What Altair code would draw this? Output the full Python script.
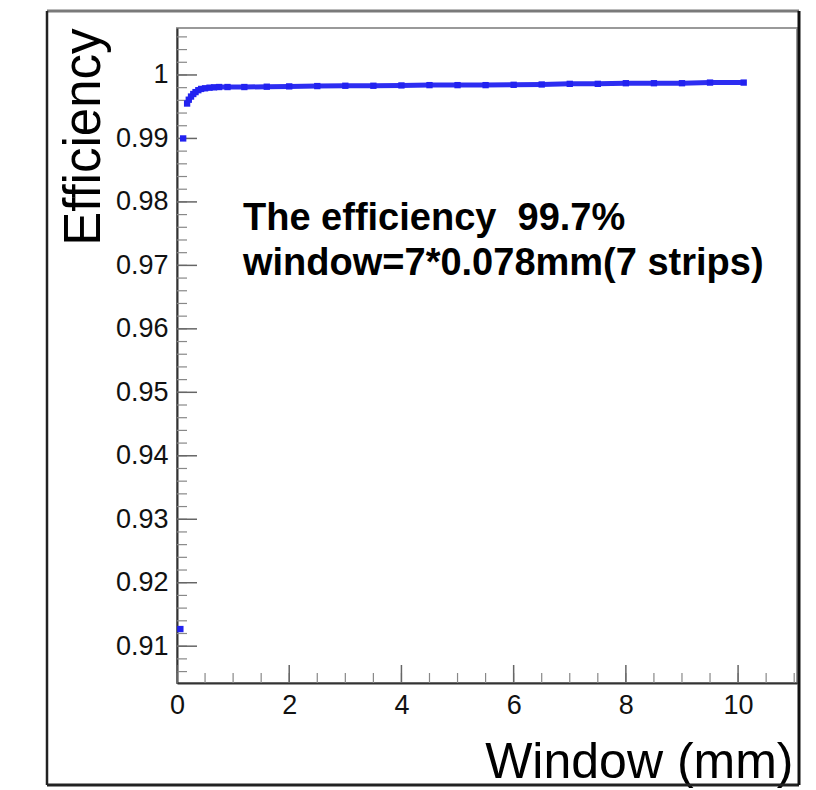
import altair as alt
import pandas as pd

# ---- data ----
window_mm = [0.06, 0.11, 0.18, 0.21, 0.25, 0.29, 0.33, 0.38, 0.43, 0.50, 0.58, 0.66,
             0.75, 0.90, 1.2, 1.6, 2.0, 2.5, 3.0, 3.5, 4.0, 4.5, 5.0, 5.5, 6.0, 6.5,
             7.0, 7.5, 8.0, 8.5, 9.0, 9.5, 10.1]
efficiency = [0.9127, 0.9900, 0.9955, 0.9961, 0.9966, 0.9970, 0.9973, 0.9976, 0.9978,
              0.9979, 0.9980, 0.99805, 0.9981, 0.9981, 0.9981, 0.99815, 0.9982, 0.99825,
              0.9983, 0.9983, 0.99835, 0.9984, 0.9984, 0.9984, 0.99845, 0.9985, 0.9986,
              0.9986, 0.9987, 0.9987, 0.9987, 0.9988, 0.9988]

y_major = [0.91, 0.92, 0.93, 0.94, 0.95, 0.96, 0.97, 0.98, 0.99, 1.00]
y_minor = [round(0.906 + 0.002 * i, 3) for i in range(51)]
x_major = [0, 2, 4, 6, 8, 10]
x_minor = [0.5 * i for i in range(23)]

annotation = ["The efficiency\u00a0\u00a099.7%", "window=7*0.078mm(7 strips)"]
x_title = "Window (mm)"
y_title = "Efficiency"

df = pd.DataFrame({"x": window_mm, "y": efficiency})

FONT = "Liberation Sans"
BLUE = "#2222f0"

xscale = alt.Scale(domain=[0, 11.05], nice=False, zero=False)
yscale = alt.Scale(domain=[0.9042, 1.0074], nice=False, zero=False)

xaxis = alt.Axis(values=x_major, format="d", tickSize=0, labelPadding=9,
                 labelFlush=False,
                 labelFontSize=27, labelFont=FONT, labelColor="#111",
                 domainColor="#333", domainWidth=2, grid=False,
                 title=x_title, titleFont=FONT, titleFontSize=50,
                 titleFontWeight="normal", titleColor="#000",
                 titleAlign="right", titleBaseline="alphabetic",
                 titleX=616, titleY=94)
yaxis = alt.Axis(values=y_major, format=".2~f", tickSize=0, labelPadding=9,
                 labelFlush=False,
                 labelFontSize=27, labelFont=FONT, labelColor="#111",
                 domainColor="#333", domainWidth=2, grid=False,
                 title=y_title, titleFont=FONT, titleFontSize=51,
                 titleFontWeight="normal", titleColor="#000",
                 titleAngle=-90, titleAlign="right", titleBaseline="alphabetic",
                 titleX=-78, titleY=0)

base = alt.Chart(df)

band = base.transform_filter("datum.x >= 0.15").mark_line(
    color=BLUE, strokeWidth=5, strokeCap="round", opacity=0.95
).encode(
    x=alt.X("x:Q", scale=xscale, axis=xaxis),
    y=alt.Y("y:Q", scale=yscale, axis=yaxis),
)

pts = base.mark_square(color=BLUE, size=40, opacity=1).encode(
    x=alt.X("x:Q", scale=xscale, axis=xaxis),
    y=alt.Y("y:Q", scale=yscale, axis=yaxis),
)

ymaj = alt.Chart(pd.DataFrame({"v": y_major})).mark_rule(color="#666", strokeWidth=1.5).encode(
    y=alt.Y("v:Q", scale=yscale, axis=yaxis), x=alt.value(0), x2=alt.value(20))
ymin = alt.Chart(pd.DataFrame({"v": y_minor})).mark_rule(color="#888", strokeWidth=1.2).encode(
    y=alt.Y("v:Q", scale=yscale, axis=yaxis), x=alt.value(0), x2=alt.value(10))
xmaj = alt.Chart(pd.DataFrame({"v": x_major})).mark_rule(color="#666", strokeWidth=1.5).encode(
    x=alt.X("v:Q", scale=xscale, axis=xaxis), y=alt.value(655), y2=alt.value(637))
xmin = alt.Chart(pd.DataFrame({"v": x_minor})).mark_rule(color="#888", strokeWidth=1.2).encode(
    x=alt.X("v:Q", scale=xscale, axis=xaxis), y=alt.value(655), y2=alt.value(645))

text = alt.Chart(pd.DataFrame({"t": [0]})).mark_text(
    align="left", baseline="alphabetic", font=FONT, fontSize=38, fontWeight="bold",
    color="#000", lineHeight=45
).encode(x=alt.value(66), y=alt.value(202), text=alt.value(annotation))

one = pd.DataFrame({"t": [0]})
frame_top = alt.Chart(one).mark_rule(color="#7a7a7a", strokeWidth=3).encode(
    x=alt.value(-130), x2=alt.value(622), y=alt.value(-17))
frame_left = alt.Chart(one).mark_rule(color="#222", strokeWidth=2.5).encode(
    x=alt.value(-130), y=alt.value(-17), y2=alt.value(757))
frame_bottom = alt.Chart(one).mark_rule(color="#222", strokeWidth=3).encode(
    x=alt.value(-130), x2=alt.value(622), y=alt.value(757))
frame_right = alt.Chart(one).mark_rule(color="#111", strokeWidth=3).encode(
    x=alt.value(622), y=alt.value(-17), y2=alt.value(757))

chart = alt.layer(
    ymin, ymaj, xmin, xmaj, band, pts, text,
    frame_top, frame_left, frame_bottom, frame_right
).properties(
    width=620, height=655,
    padding={"left": 177, "top": 28, "right": 19, "bottom": 107},
    autosize=alt.AutoSizeParams(type="none"),
    background="white",
).configure_view(stroke="#999", strokeWidth=2)

chart.save("out.html", embed_options={"renderer": "svg", "actions": False})
